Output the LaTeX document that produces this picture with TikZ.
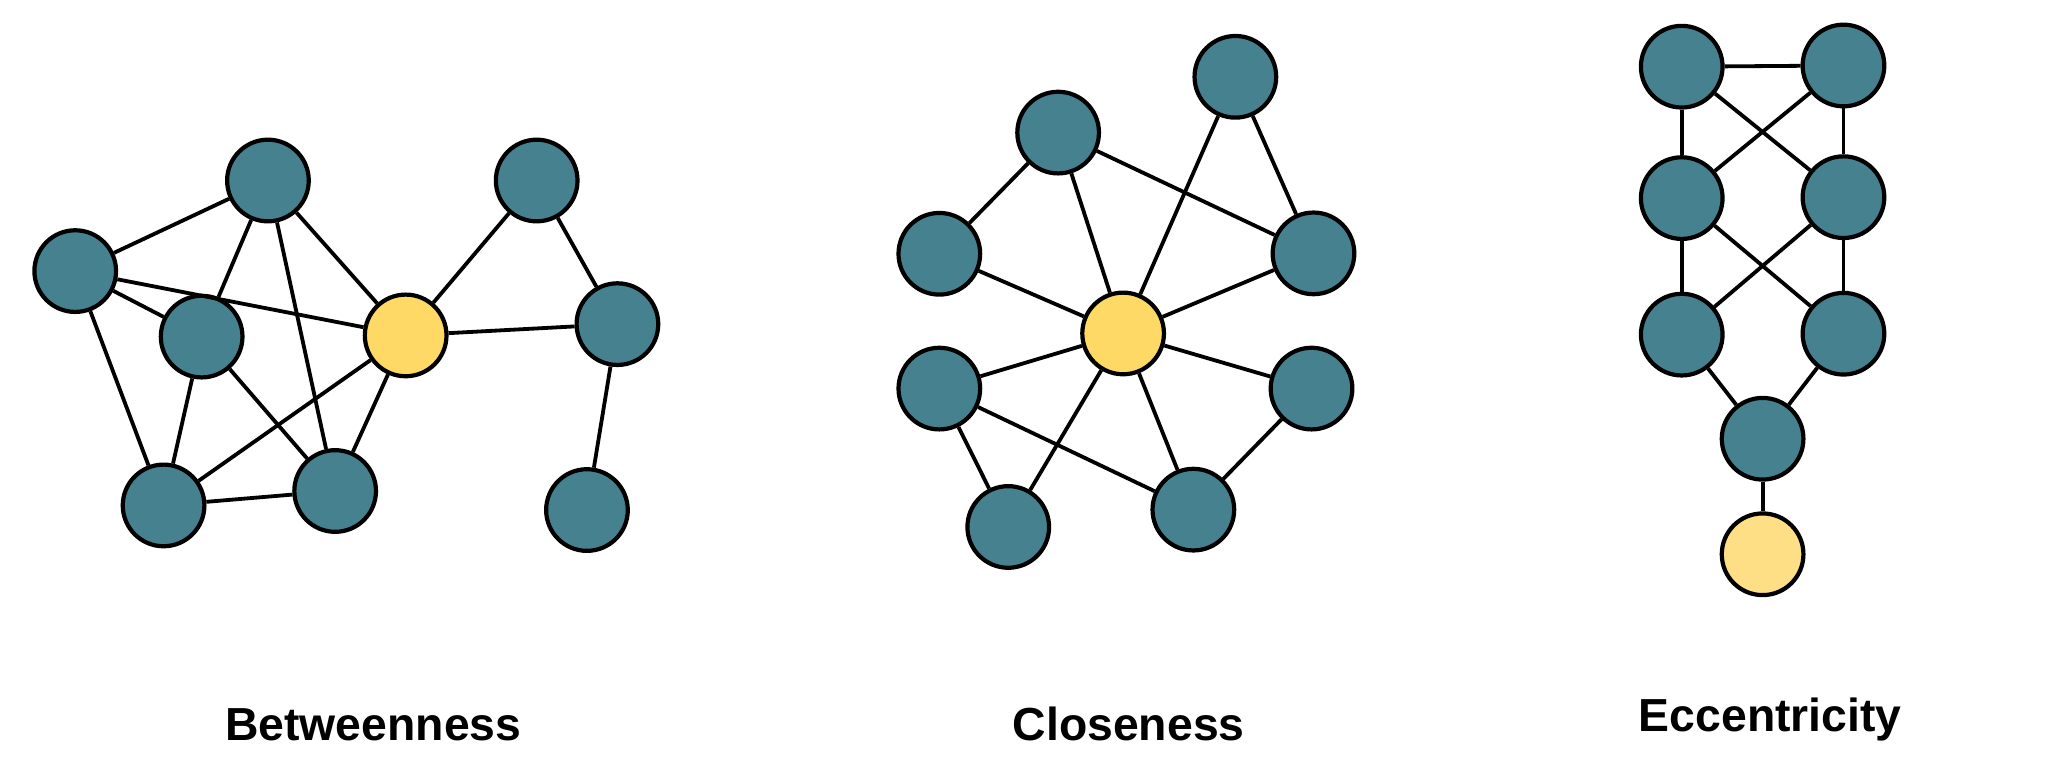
\documentclass[tikz,border=0pt]{standalone}
\usepackage{fontspec}
\setmainfont{Liberation Sans}
\definecolor{teal}{HTML}{45818E}
\definecolor{gold}{HTML}{FFD966}
\definecolor{paleGold}{HTML}{FEDF85}
\begin{document}
\begin{tikzpicture}[x=1pt,y=-1pt,
  vtx/.style={circle,draw=black,line width=3.2pt,fill=teal,minimum size=62.2pt,inner sep=0pt},
  hub/.style={vtx,fill=gold},
  hubpale/.style={vtx,fill=paleGold},
  edge/.style={draw=black,line width=2.9pt},
  lbl/.style={anchor=base,font=\fontsize{35.3}{40}\selectfont\bfseries,inner sep=0pt}]
\useasboundingbox (0,0) rectangle (1560,590.3);
% Betweenness
\node[vtx] (a) at (57.3,206.5) {};
\node[vtx] (b) at (204.1,137.5) {};
\node[vtx] (c) at (153.6,256.4) {};
\node[vtx] (d) at (124.6,385) {};
\node[vtx] (e) at (255.3,374) {};
\node[hub] (y) at (309,255.5) {};
\node[vtx] (f) at (408.8,137.5) {};
\node[vtx] (g) at (470.3,246.9) {};
\node[vtx] (h) at (447.1,388.5) {};
\foreach \u/\v in {a/b,a/y,a/c,a/d,b/c,b/e,b/y,c/d,c/e,d/e,d/y,e/y,y/f,y/g,f/g,g/h}
  \draw[edge] (\u) -- (\v);
% Closeness
\node[vtx] (p1) at (806,101) {};
\node[vtx] (p2) at (941,58.5) {};
\node[vtx] (p3) at (715.5,193.3) {};
\node[vtx] (p4) at (1000.5,193) {};
\node[hub] (cy) at (855.5,254) {};
\node[vtx] (p5) at (715.5,296) {};
\node[vtx] (p6) at (999,296) {};
\node[vtx] (p7) at (768,401.4) {};
\node[vtx] (p8) at (909,388.2) {};
\foreach \u/\v in {p1/p3,p1/cy,p1/p4,p2/cy,p2/p4,p3/cy,p4/cy,p5/cy,p5/p8,p5/p7,cy/p7,cy/p8,cy/p6,p8/p6}
  \draw[edge] (\u) -- (\v);
% Eccentricity
\node[vtx] (e1) at (1281,50.8) {};
\node[vtx] (e2) at (1404.2,49.9) {};
\node[vtx] (e3) at (1281,150.9) {};
\node[vtx] (e4) at (1404.2,150.2) {};
\node[vtx] (e5) at (1281,254.9) {};
\node[vtx] (e6) at (1404.2,254.2) {};
\node[vtx] (e7) at (1342.6,334.2) {};
\node[hubpale] (ey) at (1342.6,422.2) {};
\foreach \u/\v in {e1/e2,e1/e3,e2/e4,e1/e4,e2/e3,e3/e5,e4/e6,e3/e6,e4/e5,e5/e7,e6/e7,e7/ey}
  \draw[edge] (\u) -- (\v);
% Labels
\node[lbl] (t1) at (284.3,564) {Betweenness};
\node[lbl] (t2) at (859.7,564) {Closeness};
\node[lbl] (t3) at (1348.5,557) {Eccentricity};
\end{tikzpicture}
\end{document}
